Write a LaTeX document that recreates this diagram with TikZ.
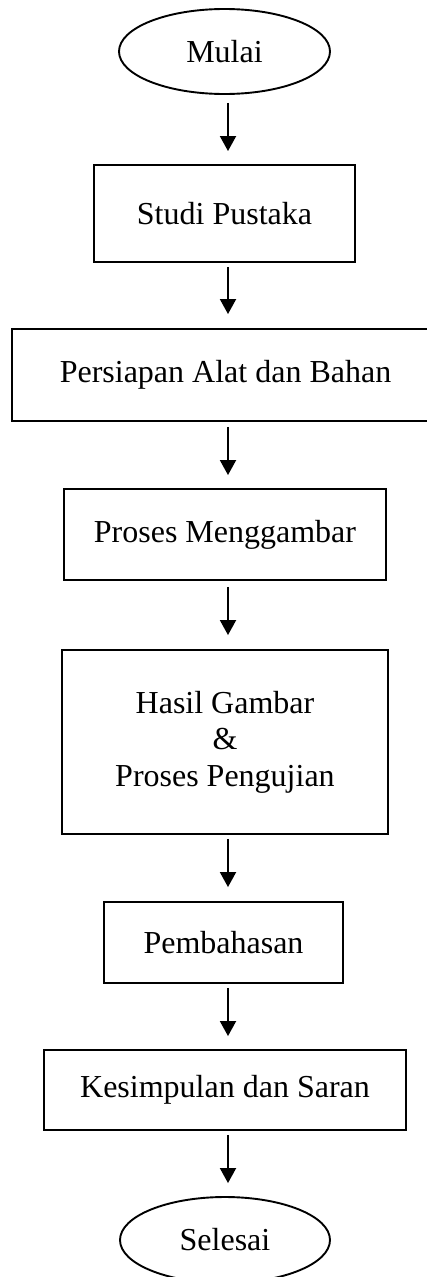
\documentclass[tikz,border=0pt]{standalone}
\usepackage{fontspec}
\setmainfont{Liberation Serif}
\usetikzlibrary{arrows.meta,shapes.geometric}
\tikzset{
  lbl/.style={font=\fontsize{32}{36.5}\selectfont, align=center, inner sep=0pt},
  procbox/.style={lbl, draw, line width=1.9pt, rectangle},
  termnode/.style={lbl, draw, line width=1.9pt, ellipse},
  flow/.style={line width=1.9pt, -{Triangle[width=16pt,length=15pt]}}
}
\begin{document}
\begin{tikzpicture}[x=1pt,y=-1pt]
\useasboundingbox (0,0) rectangle (427,1277);
\coordinate (ax) at (228,0);
\node[termnode, minimum width=211pt, minimum height=85pt] (mulai) at (224.5,51.5) {Mulai};
\node[procbox, minimum width=261pt, minimum height=97pt] (studi) at (224.5,213.5) {Studi Pustaka};
\node[procbox, minimum width=430pt, minimum height=92pt] (persiapan) at (227,375) {\hspace*{-3pt}Persiapan Alat dan Bahan};
\node[procbox, minimum width=322pt, minimum height=91pt] (proses) at (225,534.5) {Proses Menggambar};
\node[procbox, minimum width=326pt, minimum height=184pt] (hasil) at (225,742) {Hasil Gambar\\\&\\Proses Pengujian};
\node[procbox, minimum width=239pt, minimum height=81pt] (bahas) at (223.5,942.5) {Pembahasan};
\node[procbox, minimum width=362pt, minimum height=80pt] (simpul) at (225,1090) {Kesimpulan dan Saran};
\node[termnode, minimum width=210pt, minimum height=86pt] (selesai) at (225,1240) {Selesai};
\draw[flow, shorten <=8pt, shorten >=13pt] (mulai.south -| ax) -- (studi.north -| ax);
\draw[flow, shorten <=4pt, shorten >=14pt] (studi.south -| ax) -- (persiapan.north -| ax);
\draw[flow, shorten <=5pt, shorten >=13pt] (persiapan.south -| ax) -- (proses.north -| ax);
\draw[flow, shorten <=6pt, shorten >=14pt] (proses.south -| ax) -- (hasil.north -| ax);
\draw[flow, shorten <=4pt, shorten >=14pt] (hasil.south -| ax) -- (bahas.north -| ax);
\draw[flow, shorten <=4pt, shorten >=13pt] (bahas.south -| ax) -- (simpul.north -| ax);
\draw[flow, shorten <=4pt, shorten >=13pt] (simpul.south -| ax) -- (selesai.north -| ax);
\end{tikzpicture}
\end{document}
